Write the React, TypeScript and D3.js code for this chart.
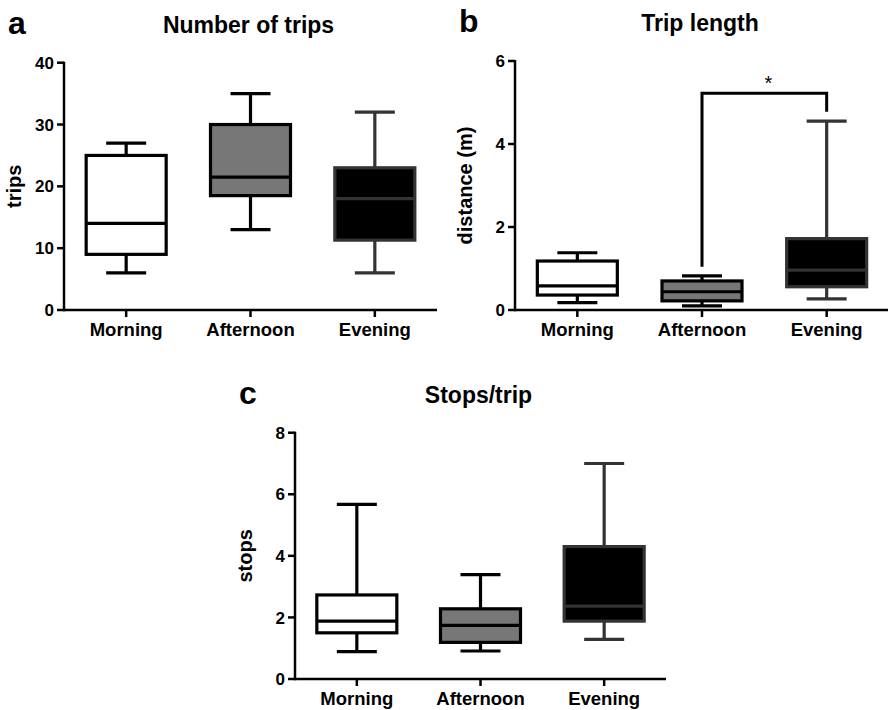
import React from "react";
import * as d3 from "d3";

// Time-of-day groups shown on every panel
const periods = ["Morning", "Afternoon", "Evening"];

// Box colours per group
const boxFill = ["#ffffff", "#777777", "#000000"];
const boxStroke = ["#000000", "#000000", "#333333"];

// a: Number of trips
const tripsMin = [6, 13, 6];
const tripsQ1 = [9, 18.5, 11.3];
const tripsMedian = [14, 21.5, 18];
const tripsQ3 = [25, 30, 23];
const tripsMax = [27, 35, 32];
const tripsTicks = [0, 10, 20, 30, 40];

// b: Trip length
const lengthMin = [0.18, 0.1, 0.27];
const lengthQ1 = [0.36, 0.22, 0.56];
const lengthMedian = [0.58, 0.44, 0.96];
const lengthQ3 = [1.18, 0.7, 1.72];
const lengthMax = [1.38, 0.82, 4.55];
const lengthTicks = [0, 2, 4, 6];
// significance bracket Afternoon vs Evening
const lengthBracket = { from: "Afternoon", to: "Evening", top: 5.22, leftEnd: 1.04, rightEnd: 4.78, label: "*" };

// c: Stops per trip
const stopsMin = [0.89, 0.91, 1.29];
const stopsQ1 = [1.5, 1.19, 1.88];
const stopsMedian = [1.88, 1.74, 2.37];
const stopsQ3 = [2.73, 2.28, 4.3];
const stopsMax = [5.67, 3.39, 7.0];
const stopsTicks = [0, 2, 4, 6, 8];

const FONT = "'Liberation Sans', Arial, Helvetica, sans-serif";

type Stats = { min: number[]; q1: number[]; median: number[]; q3: number[]; max: number[] };

type PanelProps = {
  letter: string;
  title: string;
  yLabel: string;
  ticks: number[];
  stats: Stats;
  x0: number;
  yTop: number;
  yBottom: number;
  width: number;
  bracket?: typeof lengthBracket;
};

function Panel({ letter, title, yLabel, ticks, stats, x0, yTop, yBottom, width, bracket }: PanelProps) {
  const x = d3.scalePoint<string>().domain(periods).range([x0, x0 + width]).padding(0.5);
  const y = d3.scaleLinear().domain([0, ticks[ticks.length - 1]]).range([yBottom, yTop]);
  const boxW = 80;
  const capW = 40;
  const sw = 3.2;
  const midX = x0 + width / 2 - 2;

  return (
    <g fontFamily={FONT} fontWeight="bold">
      <text x={x0 - 56} y={yTop - 29} fontSize={32}>{letter}</text>
      <text x={midX} y={yTop - 30} fontSize={23} textAnchor="middle">{title}</text>
      <text
        transform={`translate(${x0 - 43},${(yTop + yBottom) / 2}) rotate(-90)`}
        fontSize={20}
        textAnchor="middle"
      >
        {yLabel}
      </text>

      {/* boxes */}
      {periods.map((p, i) => {
        const cx = x(p)!;
        const s = boxStroke[i];
        return (
          <g key={p} stroke={s} strokeWidth={sw} fill="none">
            <line x1={cx} x2={cx} y1={y(stats.q3[i])} y2={y(stats.max[i])} />
            <line x1={cx} x2={cx} y1={y(stats.q1[i])} y2={y(stats.min[i])} />
            <line x1={cx - capW / 2} x2={cx + capW / 2} y1={y(stats.max[i])} y2={y(stats.max[i])} />
            <line x1={cx - capW / 2} x2={cx + capW / 2} y1={y(stats.min[i])} y2={y(stats.min[i])} />
            <rect
              x={cx - boxW / 2}
              y={y(stats.q3[i])}
              width={boxW}
              height={y(stats.q1[i]) - y(stats.q3[i])}
              fill={boxFill[i]}
            />
            <line x1={cx - boxW / 2} x2={cx + boxW / 2} y1={y(stats.median[i])} y2={y(stats.median[i])} />
          </g>
        );
      })}

      {bracket && (
        <g>
          <path
            d={`M${x(bracket.from)},${y(bracket.leftEnd)}V${y(bracket.top)}H${x(bracket.to)}V${y(bracket.rightEnd)}`}
            fill="none"
            stroke="#000"
            strokeWidth={3}
          />
          <text
            x={(x(bracket.from)! + x(bracket.to)!) / 2 + 4}
            y={y(bracket.top) - 3}
            fontSize={20}
            fontWeight="normal"
            textAnchor="middle"
          >
            {bracket.label}
          </text>
        </g>
      )}

      {/* y axis */}
      <line x1={x0} x2={x0} y1={yTop - 1} y2={yBottom + 1.25} stroke="#000" strokeWidth={2.5} />
      {ticks.map((t) => (
        <g key={t}>
          <line x1={x0 - 7} x2={x0} y1={y(t)} y2={y(t)} stroke="#000" strokeWidth={2.5} />
          <text x={x0 - 10} y={y(t)} dy="0.36em" fontSize={17} textAnchor="end">
            {t}
          </text>
        </g>
      ))}

      {/* x axis */}
      <line x1={x0} x2={x0 + width} y1={yBottom} y2={yBottom} stroke="#000" strokeWidth={2.5} />
      {periods.map((p) => (
        <g key={p}>
          <line x1={x(p)} x2={x(p)} y1={yBottom} y2={yBottom + 7} stroke="#000" strokeWidth={2.5} />
          <text x={x(p)} y={yBottom + 26} fontSize={18.5} textAnchor="middle">
            {p}
          </text>
        </g>
      ))}
    </g>
  );
}

export default function App() {
  return (
    <svg
      width={888}
      height={710}
      viewBox="0 0 888 710"
      style={{ position: "absolute", left: 0, top: 0, background: "#fff" }}
    >
      <rect width={888} height={710} fill="#fff" />
      <Panel
        letter="a"
        title="Number of trips"
        yLabel="trips"
        ticks={tripsTicks}
        stats={{ min: tripsMin, q1: tripsQ1, median: tripsMedian, q3: tripsQ3, max: tripsMax }}
        x0={64}
        yTop={62.7}
        yBottom={310}
        width={373}
      />
      <Panel
        letter="b"
        title="Trip length"
        yLabel="distance (m)"
        ticks={lengthTicks}
        stats={{ min: lengthMin, q1: lengthQ1, median: lengthMedian, q3: lengthQ3, max: lengthMax }}
        x0={515}
        yTop={61}
        yBottom={310}
        width={374}
        bracket={lengthBracket}
      />
      <Panel
        letter="c"
        title="Stops/trip"
        yLabel="stops"
        ticks={stopsTicks}
        stats={{ min: stopsMin, q1: stopsQ1, median: stopsMedian, q3: stopsQ3, max: stopsMax }}
        x0={295}
        yTop={432.7}
        yBottom={679}
        width={371}
      />
    </svg>
  );
}
